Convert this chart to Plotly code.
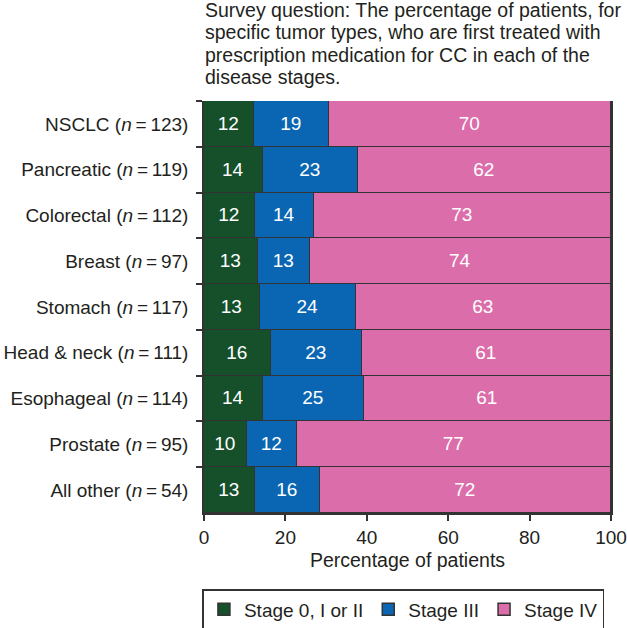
import plotly.graph_objects as go

categories = ["NSCLC", "Pancreatic", "Colorectal", "Breast", "Stomach",
              "Head &amp; neck", "Esophageal", "Prostate", "All other"]
n_values = [123, 119, 112, 97, 117, 111, 114, 95, 54]

# Bar widths (percent of patients)
stage_early = [12.3, 14.5, 12.6, 13.2, 13.8, 16.4, 14.6, 10.6, 12.6]
stage_iii = [18.4, 23.3, 14.4, 12.9, 23.5, 22.3, 24.6, 12.3, 15.9]
stage_iv = [69.3, 62.2, 73.0, 73.9, 62.7, 61.3, 60.8, 77.1, 71.5]

# Printed labels
label_early = [12, 14, 12, 13, 13, 16, 14, 10, 13]
label_iii = [19, 23, 14, 13, 24, 23, 25, 12, 16]
label_iv = [70, 62, 73, 74, 63, 61, 61, 77, 72]

series_names = ["Stage 0, I or II", "Stage III", "Stage IV"]
colors = ["#15502b", "#0a66b2", "#db6dab"]

x_ticks = [0, 20, 40, 60, 80, 100]

title_lines = ["Survey question: The percentage of patients, for",
               "specific tumor types, who are first treated with",
               "prescription medication for CC in each of the",
               "disease stages."]

ylabels = [f"{c} (<i>n</i>\u2009=\u2009{n})" for c, n in zip(categories, n_values)]

FONT = "Liberation Sans, Arial, Helvetica, sans-serif"
TXT = "#231f20"
FS = 19.5

W, H = 627, 628
ML, MR, MT, MB = 204, 16, 101, 115
PH = H - MT - MB

fig = go.Figure()
for name, vals, labs, col in zip(series_names,
                                 [stage_early, stage_iii, stage_iv],
                                 [label_early, label_iii, label_iv],
                                 colors):
    fig.add_trace(go.Bar(
        y=ylabels, x=vals, name=name, orientation="h",
        marker=dict(color=col, line=dict(color="#333333", width=1.5)),
        text=[str(v) for v in labs], textposition="inside",
        insidetextanchor="middle", textangle=0, constraintext="none",
        textfont=dict(color="white", size=19, family=FONT),
        hoverinfo="skip",
    ))

for i, line in enumerate(title_lines):
    yc = 9.5 + 22.6 * i
    fig.add_annotation(
        text=line, xref="paper", yref="paper",
        x=0, xanchor="left", y=1 + (MT - yc) / PH, yanchor="middle",
        align="left", showarrow=False, xshift=-1,
        font=dict(size=19.5, color=TXT, family=FONT),
    )

fig.update_layout(
    barmode="stack", bargap=0,
    width=W, height=H,
    margin=dict(l=ML, r=MR, t=MT, b=MB, autoexpand=False),
    paper_bgcolor="white", plot_bgcolor="white",
    font=dict(family=FONT, size=FS, color=TXT),
    legend=dict(
        orientation="h", x=0.49, xanchor="center",
        y=-(589 - (H - MB)) / PH, yanchor="top",
        bordercolor="#333333", borderwidth=1.5,
        font=dict(size=19, color=TXT, family=FONT),
        traceorder="normal",
    ),
    showlegend=True,
)
fig.update_xaxes(
    range=[0, 100], tickvals=x_ticks, ticktext=[str(t) for t in x_ticks],
    showgrid=False, zeroline=False, automargin=False,
    showline=True, linecolor="#333333", linewidth=1.5,
    ticks="outside", ticklen=6, tickcolor="#333333", tickwidth=1.5,
    title=dict(text="Percentage of patients", standoff=7,
               font=dict(size=FS, color=TXT)),
    tickfont=dict(size=19, color=TXT),
)
fig.update_yaxes(
    categoryorder="array", categoryarray=ylabels, autorange="reversed",
    showgrid=False, zeroline=False, automargin=False,
    showline=True, mirror=True, linecolor="#333333", linewidth=1.5,
    ticks="outside", tickson="boundaries", ticklen=6,
    tickcolor="#333333", tickwidth=1.5, ticklabelstandoff=10,
    tickfont=dict(size=19, color=TXT),
)

fig.write_html(
    "out.html",
    config={"displayModeBar": False},
    post_script="document.body.style.margin='0';document.body.style.overflow='hidden';",
)
